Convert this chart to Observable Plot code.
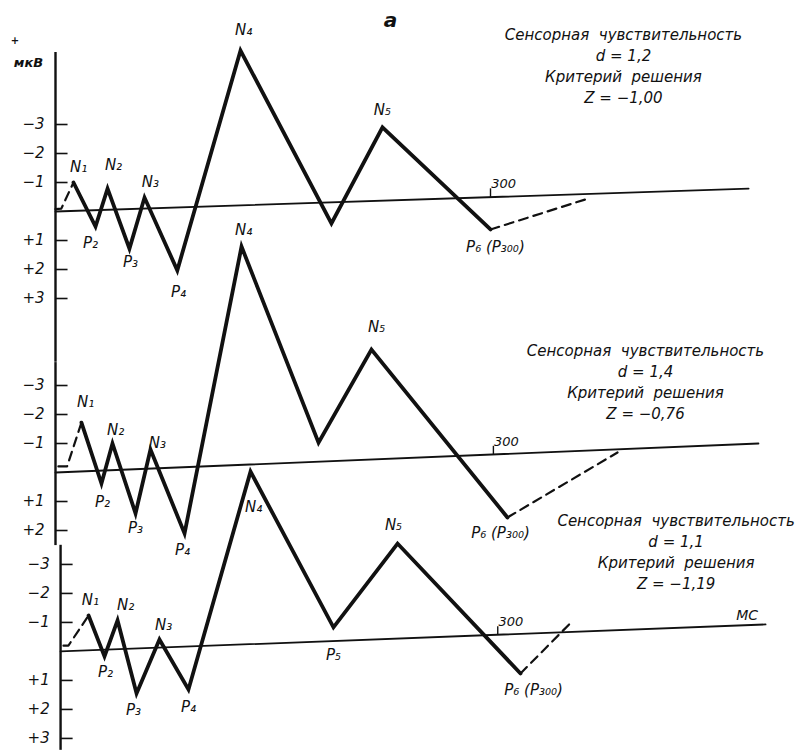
<!DOCTYPE html>
<html><head><meta charset="utf-8">
<script src="https://cdn.jsdelivr.net/npm/d3@7"></script>
<script src="https://cdn.jsdelivr.net/npm/@observablehq/plot@0.6"></script>
<style>
body{margin:0;background:#fff}
#chart svg{background:#fff}
g[aria-label="annotation"] text{letter-spacing:1.6px}
g[aria-label="peak-labels"] text{letter-spacing:0.5px}
</style>
</head><body><div id="chart"></div>
<script>
// ---- layout of the stacked panels (µV offset of each panel's zero line) ----
const panelIds = ["A", "B", "C"];
const panelOffset = [0, 9.0, 15.17];
const axisT = [0, 0, 3.5];                 // ms where each panel's µV axis stands
const axisFrom = [-5.48, -3.79, -3.66];    // µV, top of each axis line
const axisTo = [5.2, 2.52, 3.41];          // µV, bottom of each axis line

// ---- y-axis tick values and labels (negative up, ERP convention) ----
const tickValsA = [-3, -2, -1, 1, 2, 3];
const tickValsB = [-3, -2, -1, 1, 2];
const tickValsC = [-3, -2, -1, 1, 2, 3];
const tickLabel = v => (v < 0 ? "\u2212" : "+") + Math.abs(v);

// ---- waveform vertices: N1 P2 N2 P3 N3 P4 N4 P5 N5 P6 (time ms, amplitude µV) ----
const waveT_A = [12.4, 27.6, 35.9, 51.0, 61.4, 84.0, 127.6, 190.3, 225.5, 300.0];
const waveV_A = [-1.00, 0.52, -0.79, 1.28, -0.48, 2.03, -5.55, 0.41, -2.90, 0.62];
const waveT_B = [17.9, 31.7, 39.3, 55.2, 65.5, 89.0, 128.3, 181.4, 217.9, 311.7];
const waveV_B = [-1.72, 0.38, -1.00, 1.41, -0.79, 2.10, -7.79, -1.03, -4.24, 1.55];
const waveT_C = [22.8, 33.8, 42.8, 55.9, 71.7, 91.7, 134.5, 191.7, 235.9, 320.7];
const waveV_C = [-1.24, 0.17, -1.07, 1.45, -0.41, 1.31, -6.20, -0.83, -3.72, 0.76];

// ---- dashed onset (stub + rise to N1) and dashed tail after P6 ----
const onsetT_A = [0, 4, 12.4],   onsetV_A = [-0.08, -0.1, -1.00];
const onsetT_B = [2, 8, 17.9],   onsetV_B = [-0.21, -0.21, -1.72];
const onsetT_C = [5.5, 8.9, 22.8], onsetV_C = [-0.2, -0.2, -1.24];
const tailT_A = [300.0, 367.6],  tailV_A = [0.62, -0.45];
const tailT_B = [311.7, 387.6],  tailV_B = [1.55, -0.69];
const tailT_C = [320.7, 355.0],  tailV_C = [0.76, -0.97];

// ---- zero (iso-electric) lines, slightly tilted as drawn ----
const baseT_A = [0, 478],   baseV_A = [0, -0.79];
const baseT_B = [0, 484.8], baseV_B = [0, -1.00];
const baseT_C = [3.5, 489.7], baseV_C = [0, -0.93];

// ---- 300 ms marks ----
const mark300T = [300, 302, 305];
const mark300V = [-0.50, -0.62, -0.57];

// ---- component labels (text, time ms, µV) ----
const peakText_A = ["N\u2081","P\u2082","N\u2082","P\u2083","N\u2083","P\u2084","N\u2084","N\u2085","P\u2086 (P\u2083\u2080\u2080)"];
const peakT_A = [15.9, 24.1, 40.0, 51.7, 65.5, 84.8, 129.7, 225.5, 303.4];
const peakV_A = [-1.52, 1.10, -1.59, 1.76, -1.00, 2.79, -6.24, -3.48, 1.24];
const peakText_B = ["N\u2081","P\u2082","N\u2082","P\u2083","N\u2083","P\u2084","N\u2084","N\u2085","P\u2086 (P\u2083\u2080\u2080)"];
const peakT_B = [20.7, 32.4, 41.4, 55.2, 70.3, 87.6, 129.7, 221.4, 306.9];
const peakV_B = [-2.41, 1.03, -1.45, 1.93, -1.00, 2.69, -8.34, -5.00, 2.10];
const peakText_C = ["N\u2081","P\u2082","N\u2082","P\u2083","N\u2083","P\u2084","N\u2084","P\u2085","N\u2085","P\u2086 (P\u2083\u2080\u2080)"];
const peakT_C = [24.1, 34.5, 48.3, 53.8, 74.5, 91.7, 136.6, 191.7, 233.1, 329.7];
const peakV_C = [-1.76, 0.72, -1.59, 2.03, -0.90, 1.93, -4.97, 0.14, -4.34, 1.34];

// ---- condition annotations ----
const annoText = [
  "Сенсорная  чувствительность\nd = 1,2\nКритерий  решения\nZ = \u22121,00",
  "Сенсорная  чувствительность\nd = 1,4\nКритерий  решения\nZ = \u22120,76",
  "Сенсорная  чувствительность\nd = 1,1\nКритерий  решения\nZ = \u22121,19"
];
const annoT = [391.7, 406.9, 428.0];
const annoV = [-5.07, -3.17, -3.48];

// ---- misc. labels ----
const unitLabel = "мкВ";
const figLetter = "а";
const timeUnit = "МС";
const cornerMark = "+";

// ================= build tables =================
const waves = {A:[waveT_A, waveV_A], B:[waveT_B, waveV_B], C:[waveT_C, waveV_C]};
const onsets = {A:[onsetT_A, onsetV_A], B:[onsetT_B, onsetV_B], C:[onsetT_C, onsetV_C]};
const tails = {A:[tailT_A, tailV_A], B:[tailT_B, tailV_B], C:[tailT_C, tailV_C]};
const bases = {A:[baseT_A, baseV_A], B:[baseT_B, baseV_B], C:[baseT_C, baseV_C]};
const ticks = {A: tickValsA, B: tickValsB, C: tickValsC};
const peaks = {A:[peakText_A, peakT_A, peakV_A], B:[peakText_B, peakT_B, peakV_B], C:[peakText_C, peakT_C, peakV_C]};

function table(src) {
  const out = [];
  panelIds.forEach((p, i) => {
    const [ts, vs] = src[p];
    ts.forEach((t, j) => out.push({panel: p, t, y: vs[j] + panelOffset[i]}));
  });
  return out;
}
const solidRows = table(waves);
const dashRows = [...table(onsets).map(d => ({...d, seg: d.panel + "on"})),
                  ...table(tails).map(d => ({...d, seg: d.panel + "tail"}))];
const baseRows = table(bases);

const axisRows = panelIds.map((p, i) => ({t: axisT[i], y1: axisFrom[i] + panelOffset[i], y2: axisTo[i] + panelOffset[i]}));
const tickRows = panelIds.flatMap((p, i) => ticks[p].map(v => ({t: axisT[i], y: v + panelOffset[i], label: tickLabel(v)})));
const peakRows = panelIds.flatMap((p, i) => peaks[p][0].map((s, j) => ({text: s, t: peaks[p][1][j], y: peaks[p][2][j] + panelOffset[i]})));
const annoRows = annoText.map((s, i) => ({text: s, t: annoT[i], y: annoV[i] + panelOffset[i]}));
const m300Rows = mark300T.map((t, i) => ({t, y: mark300V[i] + panelOffset[i], text: "300"}));

const tickLen = 8.3;   // ms
const font = "'DejaVu Sans', sans-serif";

const chart = Plot.plot({
  width: 812,
  height: 752,
  margin: 0,
  x: {domain: [0, 520], range: [55, 809], axis: null},
  y: {domain: [-7.276, 18.655], range: [0, 752], axis: null},
  style: {fontFamily: font, background: "#fff", color: "#111"},
  marks: [
    Plot.line(baseRows, {x: "t", y: "y", z: "panel", stroke: "#111", strokeWidth: 1.8}),
    Plot.ruleX(axisRows, {x: "t", y1: "y1", y2: "y2", stroke: "#111", strokeWidth: 2.4}),
    Plot.link(tickRows, {x1: "t", x2: d => d.t + tickLen, y1: "y", y2: "y", stroke: "#111", strokeWidth: 1.6}),
    Plot.text(tickRows, {x: d => d.t - 7.5, y: "y", text: "label", textAnchor: "end", fontSize: 15, fontStyle: "italic", fill: "#111"}),
    Plot.line(dashRows, {x: "t", y: "y", z: "seg", stroke: "#111", strokeWidth: 2.2, strokeDasharray: "9,6"}),
    Plot.line(solidRows, {x: "t", y: "y", z: "panel", stroke: "#111", strokeWidth: 3.8, strokeLinejoin: "miter", strokeMiterlimit: 10}),
    Plot.link(m300Rows, {x1: "t", x2: "t", y1: "y", y2: d => d.y - 0.3, stroke: "#111", strokeWidth: 1.4}),
    Plot.text(m300Rows, {x: d => d.t + 9, y: d => d.y - 0.45, text: "text", fontSize: 13, fontStyle: "italic", fill: "#111"}),
    Plot.text(peakRows, {x: "t", y: "y", text: "text", fontSize: 15, fontStyle: "italic", fill: "#111", ariaLabel: "peak-labels"}),
    Plot.text(annoRows, {x: "t", y: "y", text: "text", fontSize: 15, fontStyle: "italic", lineHeight: 1.4, fill: "#111", ariaLabel: "annotation"}),
    Plot.text([unitLabel], {x: -18.6, y: -5.14, text: d => d, fontSize: 13, fontStyle: "italic", fontWeight: "bold", fill: "#111"}),
    Plot.text([cornerMark], {x: -28, y: -5.9, text: d => d, fontSize: 10, fontWeight: "bold", fill: "#111"}),
    Plot.text([figLetter], {x: 231, y: -6.59, text: d => d, fontSize: 20, fontStyle: "italic", fontWeight: "bold", fill: "#111"}),
    Plot.text([timeUnit], {x: 477, y: -1.24 + panelOffset[2], text: d => d, fontSize: 14, fontStyle: "italic", fill: "#111"})
  ]
});
document.getElementById("chart").appendChild(chart);
</script>
</body></html>
